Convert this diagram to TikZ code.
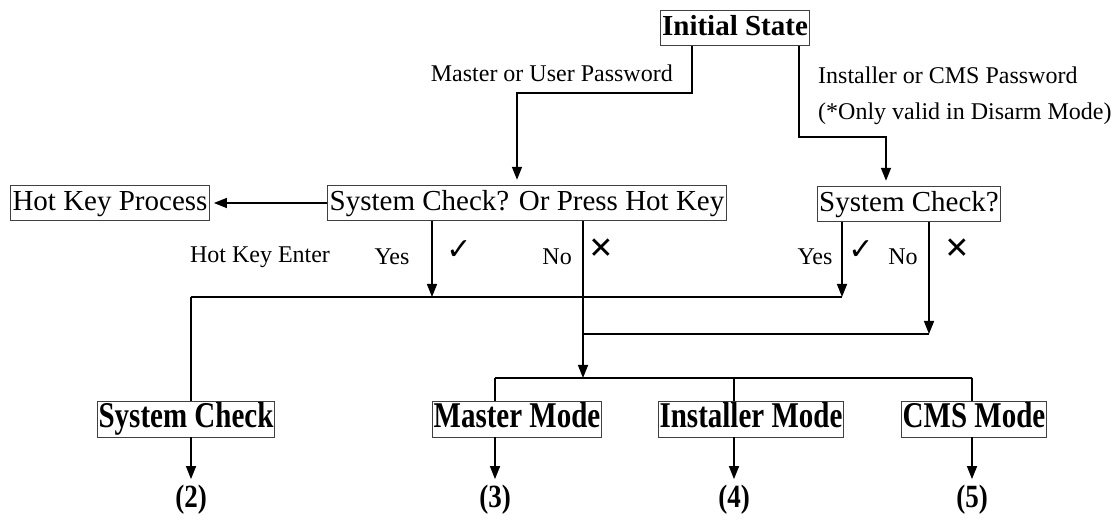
\documentclass[tikz,border=0pt]{standalone}
\usepackage{fontspec}
\setmainfont{Liberation Serif}
\newfontfamily\symfont{DejaVu Sans}
\usetikzlibrary{arrows.meta}
\begin{document}
\begin{tikzpicture}[x=1pt,y=-1pt,
  box/.style={draw=black!75,line width=0.9pt,inner xsep=2pt,inner ysep=4pt,text height=21pt,text depth=6.5pt,font=\fontsize{29}{32}\selectfont},
  bbox/.style={draw=black!75,line width=0.9pt,inner xsep=1pt,inner ysep=1.5pt,text height=25pt,text depth=8pt,font=\fontsize{29}{32}\selectfont\bfseries},
  lbl/.style={inner sep=0pt,font=\fontsize{24}{28}\selectfont},
  num/.style={inner sep=0pt,font=\fontsize{27}{30}\selectfont\bfseries},
  symb/.style={inner sep=0pt,font=\fontsize{30}{32}\selectfont\symfont\bfseries},
  conn/.style={line width=1.5pt},
  bar/.style={line width=2.4pt},
  arr/.style={line width=1.5pt,-{Triangle[length=13pt,width=10pt]}}]
\useasboundingbox (0,0) rectangle (1112,521);

% boxes
\node[box,font=\fontsize{29}{32}\selectfont\bfseries] (init) at (735,28) {Initial State};
\node[box] (main) at (527,203) {System Check? Or Press Hot Key};
\node[box] (hkp) at (110,203) {Hot Key Process};
\node[box] (sys2) at (909,204) {System Check?};
\node[bbox] (sc) at (186,419) {\scalebox{1}[1.25]{System Check}};
\node[bbox] (mm) at (517,419) {\scalebox{1}[1.25]{Master Mode}};
\node[bbox] (im) at (751,419) {\scalebox{1}[1.25]{Installer Mode}};
\node[bbox] (cm) at (974,419) {\scalebox{1}[1.25]{CMS Mode}};

% labels
\node[lbl,anchor=east] (lm) at (673,73) {Master or User Password};
\node[lbl,anchor=west] (li) at (818,75) {Installer or CMS Password};
\node[lbl,anchor=west] (lo) at (818,114) {(*Only valid in Disarm Mode)};
\node[lbl] (lhk) at (260,257) {Hot Key Enter};
\node[lbl] (ly1) at (392,257) {Yes};
\node[symb] (c1) at (459,250) {✓};
\node[lbl,anchor=east] (ln1) at (572,257) {No};
\node[symb] (x1) at (601,249) {✕};
\node[lbl] (ly2) at (815,257) {Yes};
\node[symb] (c2) at (861,250) {✓};
\node[lbl] (ln2) at (903,257) {No};
\node[symb] (x2) at (957,249) {✕};

\node[num] (r2) at (191,500) {\scalebox{1}[1.2]{(2)}};
\node[num] (r3) at (495,500) {\scalebox{1}[1.2]{(3)}};
\node[num] (r4) at (734,500) {\scalebox{1}[1.2]{(4)}};
\node[num] (r5) at (972,500) {\scalebox{1}[1.2]{(5)}};

% coordinates
\coordinate (a1) at (692,93);
\coordinate (a2) at (517,93);
\coordinate (b1) at (799,137);
\coordinate (b2) at (886,137);
\coordinate (t1) at (191,297);
\coordinate (t2) at (842,297);
\coordinate (y1) at (432,297);
\coordinate (n1) at (583,378);
\coordinate (n2) at (929,334);
\coordinate (m1) at (495,378);
\coordinate (m2) at (734,378);
\coordinate (m3) at (972,378);

% connectors
\draw[arr] (init.south -| a1) -- (a1) -- (a2) -- ([yshift=5pt]a2 |- main.north);
\draw[arr] (init.south -| b1) -- (b1) -- (b2) -- ([yshift=5pt]b2 |- sys2.north);
\draw[arr,shorten >=4pt] (main.west) -- (hkp.east);
\draw[bar] (t1) -- (t2);
\draw[conn] (t1) -- (t1 |- sc.north);
\draw[arr] (main.south -| y1) -- (y1);
\draw[arr] (sys2.south -| t2) -- (t2);
\draw[arr] (main.south -| n1) -- (n1);
\draw[arr] (sys2.south -| n2) -- (n2);
\draw[bar] (n2) -- (n1 |- n2);
\draw[bar] (m1) -- (m3);
\draw[conn] (m1) -- (m1 |- mm.north);
\draw[conn] (m2) -- (m2 |- im.north);
\draw[conn] (m3) -- (m3 |- cm.north);
\draw[arr] (sc.south -| t1) -- ([yshift=6pt]r2.north);
\draw[arr] (mm.south -| m1) -- ([yshift=6pt]r3.north);
\draw[arr] (im.south -| m2) -- ([yshift=6pt]r4.north);
\draw[arr] (cm.south -| m3) -- ([yshift=6pt]r5.north);
\end{tikzpicture}
\end{document}
